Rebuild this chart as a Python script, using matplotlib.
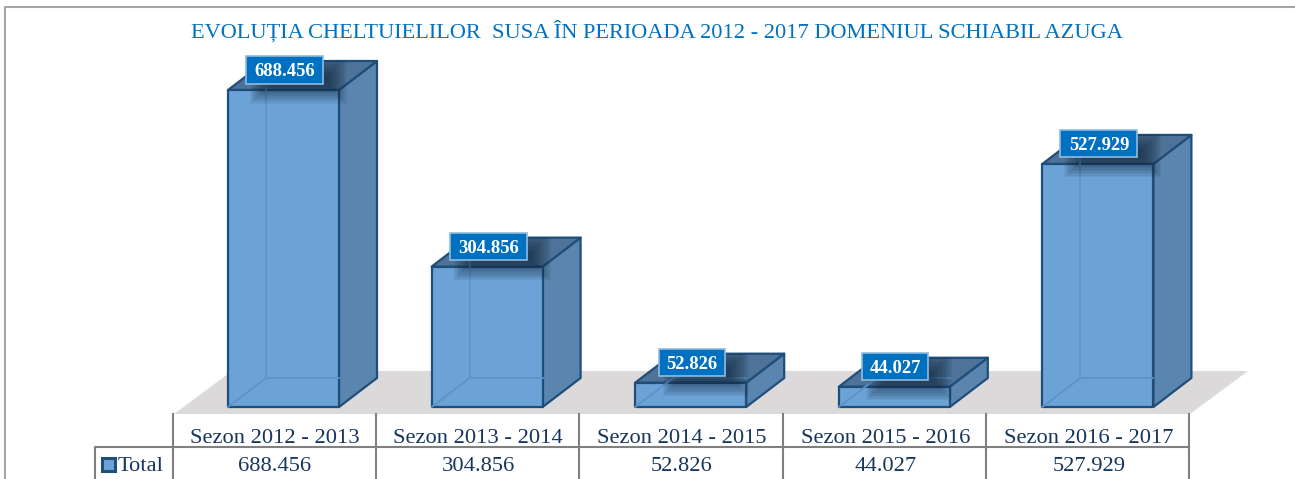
import matplotlib
matplotlib.use("Agg")
import matplotlib.pyplot as plt
from matplotlib.patches import Polygon, Rectangle

# datos de la tabla
SEASONS = ["Sezon 2012 - 2013", "Sezon 2013 - 2014", "Sezon 2014 - 2015",
           "Sezon 2015 - 2016", "Sezon 2016 - 2017"]
VALUES = [688456, 304856, 52826, 44027, 527929]
VALUE_LABELS = ["688.456", "304.856", "52.826", "44.027", "527.929"]
TITLE = "EVOLUȚIA CHELTUIELILOR  SUSA ÎN PERIOADA 2012 - 2017 DOMENIUL SCHIABIL AZUGA"
LEGEND_NAME = "Total"

W, H = 1295, 479
X0, DX = 283.5, 203.6    # centro de la primera barra y paso, en pixeles
Y0, PX_PER_UNIT = 407.0, 317.0 / 688456

BLUE = "#0070C0"
EDGE = "#1F4E79"
NAVY = "#17365D"
GRID = "#808080"
SERIF = ["Liberation Serif", "DejaVu Serif"]


def px_x(v):
    return v / DX


def px_y(v):
    return v / PX_PER_UNIT


def at(xp, yp):
    # pixel de imagen -> coordenadas de datos
    return (xp - X0) / DX, (Y0 - yp) / PX_PER_UNIT


fig = plt.figure(figsize=(W / 100, H / 100), dpi=100)
ax = fig.add_axes([0, 0, 1, 1])
ax.set_xlim((0 - X0) / DX, (W - X0) / DX)
ax.set_ylim((Y0 - H) / PX_PER_UNIT, Y0 / PX_PER_UNIT)
ax.axis("off")

# marco exterior
ax.plot(*zip(at(5, 479), at(5, 6.5), at(1295, 6.5)), color="#A6A6A6", lw=1.5)

ax.text(*at(657, 38), TITLE, color=BLUE, fontsize=16.1, family=SERIF, ha="center", va="baseline")

# suelo
ax.add_patch(Polygon([at(174, 414), at(1190, 414), at(1248, 371), at(232, 371)],
                     facecolor="#DBD9DA", edgecolor="none", zorder=1))

half = px_x(55.5)
dep_x, dep_y = px_x(38), px_y(29)

for i, val in enumerate(VALUES):
    l, r = i - half, i + half
    back = [(l + dep_x, dep_y), (l + dep_x, val + dep_y)]
    side = [(r, 0), (r + dep_x, dep_y), (r + dep_x, val + dep_y), (r, val)]
    top = [(l, val), (r, val), (r + dep_x, val + dep_y), (l + dep_x, val + dep_y)]
    front = [(l, 0), (r, 0), (r, val), (l, val)]
    ax.add_patch(Polygon(side, facecolor="#5A85AE", edgecolor=EDGE, lw=1.6, joinstyle="round", zorder=3))
    ax.add_patch(Polygon(top, facecolor="#4F7398", edgecolor=EDGE, lw=1.6, joinstyle="round", zorder=3))
    ax.add_patch(Polygon(front, facecolor="#6CA3D7", edgecolor=EDGE, lw=1.6, joinstyle="round", zorder=4))
    ax.plot(*zip(*back), color="#5B94CB", lw=1.3, zorder=5)
    ax.plot([l, l + dep_x], [0, dep_y], color="#5B94CB", lw=1.3, zorder=5)
    ax.plot([l + dep_x, r], [dep_y, dep_y], color="#5B94CB", lw=1.3, zorder=5)
    # la sombra solo cae sobre la barra
    outline = Polygon([(l, 0), (r, 0), (r + dep_x, dep_y), (r + dep_x, val + dep_y),
                       (l + dep_x, val + dep_y), (l, val)], transform=ax.transData)
    bw = px_x(77 if len(VALUE_LABELS[i]) > 6 else 66)
    bh = px_y(27)
    cx, cy = i + px_x(1), val + px_y(20)
    for k in range(14):
        grow = -20 + 40 * k / 13
        shadow = Rectangle((cx - bw / 2 + px_x(14) - px_x(grow) / 2, cy - bh / 2 - px_y(10) - px_y(grow) / 2),
                           bw + px_x(grow), bh + px_y(grow), facecolor="#10253A",
                           edgecolor="none", alpha=0.07, zorder=6)
        ax.add_patch(shadow)
        shadow.set_clip_path(outline)
    ax.add_patch(Rectangle((cx - bw / 2, cy - bh / 2), bw, bh, facecolor=BLUE,
                           edgecolor="#8FBBE0", lw=1.2, zorder=7))
    ax.text(cx, cy - px_y(6), VALUE_LABELS[i], color="white", fontsize=13.4, fontweight="bold",
            family=SERIF, ha="center", va="baseline", zorder=8)
    # tabla
    ax.text(*at(X0 - 9 + DX * i, 443), SEASONS[i], color=NAVY, fontsize=16.2, family=SERIF,
            ha="center", va="baseline", zorder=8)
    ax.text(*at(X0 - 9 + DX * i, 471), VALUE_LABELS[i], color=NAVY, fontsize=16.2, family=SERIF,
            ha="center", va="baseline", zorder=8)

# rejilla de la tabla
for i in range(6):
    xp = 173 + 203.2 * i
    ax.plot(*zip(at(xp, 414), at(xp, 479)), color=GRID, lw=1.5, zorder=2)
ax.plot(*zip(at(95, 479), at(95, 447), at(1189, 447)), color=GRID, lw=1.5, zorder=2)

# leyenda
kx, ky = at(102, 470.5)
ax.add_patch(Rectangle((kx, ky), px_x(13), px_y(13), facecolor="#6CA3D7", edgecolor=EDGE, lw=2.2, zorder=5))
ax.text(*at(118, 471), LEGEND_NAME, color=NAVY, fontsize=16.2, family=SERIF, ha="left", va="baseline")

fig.savefig("out.png", dpi=100)
